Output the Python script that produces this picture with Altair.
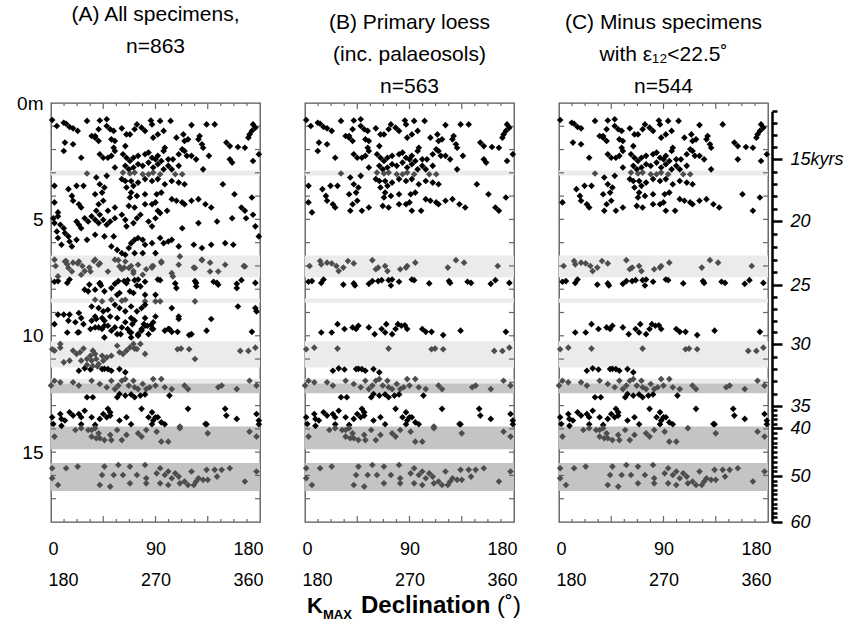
import altair as alt
import pandas as pd

W, H = 209, 419
REG = "Liberation Sans, Arial, Helvetica, sans-serif"

# ---------------- data (declination deg, depth m) ----------------
# specimens present in all three panels
common_top = [
    (1,0.73),(11,0.85),(13,0.89),(16,1.03),(19,1.09),(31,0.77),(41,1.13),(38,1.42),(42,0.75),
    (48,0.7),(48,0.99),(51,1.13),(54,1.2),(61,1.09),(65,1.35),(68,1.35),(74,0.92),(72,1.13),(78,1.06),
    (81,1.2),(86,0.75),(87,0.92),(94,0.77),(92,1.35),(88,1.49),(97,1.2),(103,0.77),(108,1.49),(114,1.35),
    (115,1.63),(118,1.56),(121,0.95),(127,1.56),(128,1.42),(130,1.77),(131,1.92),(141,0.92),(151,1.7),
    (154,1.85),(161,1.89),(167,1.92),(170,1.49),(173,1.2),(174,0.92),(176,1.06),(171,1.35),
    (12,1.7),(19,1.77),(26,2.35),(35,1.42),(38,1.49),(41,1.63),(42,2.2),(45,2.35),(49,2.35),(52,2.27),
    (54,1.92),(55,1.63),(52,1.56),(55,2.06),(64,1.85),(62,2.2),(65,2.35),(68,2.49),(71,2.35),(75,2.27),
    (81,2.2),(84,2.13),(87,2.35),(90,2.42),(92,2.27),(95,2.49),(97,2.06),(98,1.92),(101,2.42),(105,2.42),
    (110,2.2),(113,1.99),(115,2.06),(117,2.27),(121,2.27),(125,2.42),(154,2.42),(174,2.49),(179,2.2),
    (55,2.77),(64,2.7),(67,2.85),(71,2.77),(75,2.63),(79,2.7),(84,2.56),(88,2.77),(92,2.63),(97,2.85),
    (101,2.7),(104,2.85),(110,2.7),(131,2.85),(31,3.03),(48,3.13),(62,2.99),(68,3.03),(72,2.99),(79,3.06),
    (84,3.06),(88,2.99),(94,3.06),(107,3.06),(113,3.06),
    (15,3.7),(22,3.56),(28,3.56),(39,3.2),(42,3.49),(46,3.63),(38,3.92),(44,3.85),(45,4.2),(41,4.35),
    (39,4.63),(18,3.99),(19,4.2),(24,4.35),(26,4.49),(3,4.27),(49,4.63),(55,4.49),(61,3.27),(64,3.35),
    (69,3.35),(75,3.42),(81,3.27),(87,3.35),(92,3.27),(98,3.49),(104,3.35),(110,3.42),(115,3.49),(65,3.63),
    (71,3.56),(69,3.85),(68,4.06),(74,3.99),(81,3.92),(91,3.92),(95,3.85),(104,4.13),(115,4.35),(121,4.2),
    (127,4.13),(133,4.35),(138,4.49),(158,3.92),(173,4.06),(67,4.42),(72,4.49),(81,4.35),(87,4.35),
    (92,4.63),(100,4.63),(108,4.2),(113,4.27),(167,4.63),(90,4.27),
]
common_mid = [
    (4,7.0),(13,6.79),(14,6.93),(19,6.86),(23,6.89),(27,7.0),(29,7.22),(33,7.07),(37,6.79),(42,6.89),
    (58,6.75),(61,7.14),(63,7.07),(69,7.0),(71,7.22),(82,7.14),(87,7.07),(88,7.0),(95,6.86),(123,7.07),
    (130,6.75),(137,6.86),(166,7.0),
    (3,7.68),(6,7.65),(14,7.73),(16,7.58),(33,7.8),(42,7.75),(43,7.84),(55,7.77),(58,7.65),(63,7.65),
    (66,7.61),(72,7.61),(74,7.84),(75,7.58),(81,7.68),(92,7.58),(94,7.61),(107,7.75),(124,7.65),
    (125,7.73),(140,7.68),(143,7.73),(160,7.77),(164,7.61),(176,7.73),
    (14,9.86),(23,9.86),(28,9.5),(34,9.71),(41,9.64),(44,9.71),(46,9.57),(55,9.64),(60,9.93),(66,9.71),
    (69,9.86),(70,9.5),(75,9.93),(78,9.71),(80,9.5),(83,9.57),(86,9.55),(88,9.71),(101,9.71),(104,9.83),
    (109,9.83),(119,9.97),(134,9.78),(173,9.83),
    (1,10.58),(8,10.51),(28,10.55),(72,10.55),(109,10.58),(112,10.55),(119,10.58),(163,10.65),
    (170,10.65),(176,10.51),
    (24,11.5),(29,11.4),(34,11.45),(44,11.43),(46,11.42),(49,11.43),(52,11.5),(59,11.43),(64,11.57),
]
common_low = [
    (0,12.14),(3,11.93),(8,12.0),(19,12.0),(24,12.14),(35,11.93),(42,12.07),(48,12.21),(52,11.93),
    (55,12.29),(58,12.14),(61,11.93),(64,11.86),(67,12.14),(71,11.93),(72,12.21),(75,12.29),(79,12.07),
    (82,12.29),(85,12.21),(88,11.86),(90,12.14),(95,11.86),(98,12.21),(104,12.29),(115,12.14),
    (118,12.29),(144,12.21),(147,12.14),(160,12.29),(171,11.93),(177,12.14),
    (31,12.64),(36,12.64),(57,12.64),(59,12.5),(64,12.57),(69,12.52),(72,12.64),(77,12.57),(81,12.52),
    (102,12.57),
    (8,13.36),(9,13.57),(16,13.29),(19,13.43),(24,13.36),(26,13.5),(29,13.22),(35,13.5),(42,13.57),
    (45,13.36),(48,13.5),(49,13.14),(51,13.29),(51,13.43),(59,13.64),(65,13.5),(78,13.14),(84,13.5),
    (87,13.29),(88,13.64),(90,13.5),(92,13.5),(95,13.72),(118,13.14),(133,13.79),(150,13.14),
    (151,13.43),(160,13.57),(177,13.36),(179,13.64),(1,13.5),(2,13.79),(12,13.64),
    (9,13.87),(26,13.8),(38,13.83),(69,13.8),(87,13.8),(98,13.8),(134,13.8),(179,13.8),
    (3,14.33),(21,14.05),(26,13.97),(32,14.05),(35,14.33),(38,13.97),(41,14.19),(42,14.4),(46,14.48),
    (51,14.26),(52,14.48),(57,14.05),(61,14.48),(65,14.26),(75,14.19),(78,14.33),(82,14.05),(91,14.12),
    (95,14.55),(101,14.55),(111,13.97),(135,14.19),(171,14.12),(177,14.33),(35,14.05),(39,14.4),
    (1,15.69),(1,16.12),(6,16.41),(13,15.69),(23,15.62),(42,16.41),(44,15.98),(46,15.62),(51,16.48),
    (54,15.98),(58,15.55),(62,15.98),(68,16.34),(68,15.62),(74,15.98),(81,15.55),(82,16.12),(82,16.34),
    (91,15.91),(94,15.69),(94,16.34),(98,15.98),(101,16.41),(104,16.12),(107,15.91),(110,16.05),
    (111,16.34),(115,16.26),(118,16.41),(121,15.83),(123,16.41),(125,16.26),(127,16.12),(131,16.19),
    (134,15.76),(135,16.19),(141,15.76),(143,16.05),(147,15.76),(154,15.69),(167,16.26),(177,15.83),
    (101,15.83),
]
# in panels A and B only (removed in C: eps12 < 22.5)
b_only = [
    (5,0.99),(23,1.2),(134,0.92),(156,2.56),(136,2.27),(3,3.56),(148,3.49),(6,4.7),(164,4.49),
    (11,2.06),(111,13.9),
]
# in panel A only (non-primary loess)
a_only = [
    (2,4.95),(6,4.87),(3,5.16),(8,5.23),(11,5.38),(12,5.59),(15,5.73),(16,5.95),(18,6.16),(9,6.09),
    (6,5.8),(5,5.52),(22,5.09),(24,5.23),(26,5.38),(29,4.95),(32,5.09),(35,4.87),(38,5.02),(41,5.16),
    (42,4.8),(45,5.02),(48,5.23),(51,5.09),(55,4.95),(61,4.8),(64,5.02),(65,5.3),(71,5.16),(74,4.95),
    (77,4.8),(84,5.09),(87,5.3),(90,4.95),(94,4.73),(38,5.66),(46,5.73),(54,5.73),(31,5.88),(22,5.88),
    (113,5.38),(127,5.16),(143,5.09),(156,4.95),(168,4.95),(174,4.8),(176,5.3),(179,5.73),
    (52,6.16),(57,6.31),(61,6.45),(67,6.23),(69,6.02),(72,5.88),(75,5.8),(79,5.88),(81,6.09),(87,6.02),
    (94,5.8),(97,6.02),(101,5.95),(104,5.88),(110,6.16),(123,6.09),(130,6.23),(138,6.09),(150,6.02),
    (157,6.09),(64,6.52),(72,6.45),(79,6.45),(90,6.45),(111,6.59),
    (3,6.73),(12,6.81),(15,7.09),(18,7.24),(24,6.81),(34,7.24),(38,6.73),(41,6.95),(49,7.24),(55,6.73),
    (59,7.02),(64,6.81),(67,7.09),(71,7.31),(75,6.95),(79,7.38),(87,7.02),(95,6.81),(104,7.31),
    (105,7.45),(110,6.95),(124,7.09),(130,6.73),(137,7.24),(144,7.24),(150,6.95),(167,7.02),(6,7.45),
    (26,7.38),
    (29,8.02),(32,8.09),(38,8.02),(46,8.09),(52,7.95),(57,8.24),(59,8.16),(68,8.09),(71,8.16),(81,8.24),
    (90,8.24),(108,7.95),(160,7.95),(77,7.88),(42,7.74),(65,7.74),(125,7.88),(144,7.81),
    (38,8.45),(44,8.52),(52,8.45),(61,8.49),(64,8.45),(81,8.52),(90,8.52),(94,8.52),(124,8.52),
    (35,8.74),(41,8.81),(45,8.95),(49,8.88),(55,8.67),(59,8.81),(64,8.95),(69,8.74),(74,8.95),(78,8.81),
    (81,8.67),(104,8.81),(110,9.17),(6,9.09),(11,9.09),(16,9.09),(24,9.02),(26,9.24),(38,9.17),(44,9.24),
    (51,9.17),(57,9.24),(69,9.24),(81,9.24),(90,9.17),(161,8.74),(176,8.81),(177,8.95),
    (3,9.5),(15,9.35),(21,9.42),(35,9.35),(39,9.28),(46,9.35),(64,9.42),(72,9.35),(88,9.42),(110,9.28),
    (138,9.28),
    (24,9.85),(38,9.64),(49,9.57),(52,9.78),(57,9.93),(61,9.64),(68,9.85),(75,10.0),(78,9.78),(81,9.57),
    (84,9.93),(87,9.71),(98,9.78),(102,9.71),(121,9.93),(46,10.07),(69,10.07),
    (3,10.64),(8,10.35),(11,11.14),(16,11.07),(19,10.64),(22,10.78),(25,10.71),(26,11.07),(31,11.0),
    (34,10.86),(35,11.07),(36,10.64),(38,10.78),(39,11.0),(41,11.21),(44,10.86),(45,11.07),(48,10.93),
    (52,10.86),(57,10.43),(59,10.71),(62,10.78),(65,10.64),(68,10.5),(71,10.35),(74,10.57),(77,10.35),
    (81,10.78),(124,11.0),(31,11.25),(36,11.3),(40,11.32),
]

# shaded horizons (depth m)
band_lo = [2.90, 6.55, 8.40, 10.24, 11.85, 12.05, 13.90, 15.47]
band_hi = [3.11, 7.49, 8.58, 11.36, 12.05, 12.47, 14.87, 16.67]
band_shade = ["light", "light", "light", "light", "light", "dark", "dark", "dark"]

depth_ticks = list(range(1, 18))
x_minor_ticks = [11.25, 22.5, 33.75, 56.25, 67.5, 78.75, 101.25, 112.5, 123.75, 146.25, 157.5, 168.75]
x_major_ticks = [45, 90, 135]

# age model (kyr) for the right-hand scale
age_ticks = list(range(11, 61))
age_major = [15, 20, 25, 30, 35, 40, 50, 60]
age_anchor_age = [11, 15, 20, 25, 30, 35, 40, 50, 60]
age_anchor_depth = [0.35, 2.42, 5.07, 7.83, 10.36, 13.02, 13.97, 16.03, 18.0]

titles = [
    ["(A) All specimens,", "n=863", " "],
    ["(B) Primary loess", "(inc. palaeosols)", "n=563"],
    ["(C) Minus specimens", "with \u03b5\u2081\u2082<22.5\u02da", "n=544"],
]

# ---------------- helpers ----------------
def points_df(pts):
    df = pd.DataFrame(pts, columns=["decl", "depth"])
    df["grp"] = [
        "band" if any(lo <= d <= hi for lo, hi in zip(band_lo, band_hi)) else "out"
        for d in df["depth"]
    ]
    return df

bands_df = pd.DataFrame({"lo": band_lo, "hi": band_hi, "shade": band_shade})
dticks_df = pd.DataFrame({"d": depth_ticks})
xminor_df = pd.DataFrame({"v": x_minor_ticks})
xmajor_df = pd.DataFrame({"v": x_major_ticks})

yscale = alt.Scale(domain=[0, 18], reverse=True, nice=False, zero=False)
xscale = alt.Scale(domain=[0, 180], nice=False, zero=False)

def y_axis(show):
    if not show:
        return None
    return alt.Axis(values=[0, 5, 10, 15], labelExpr="datum.value == 0 ? '0m' : datum.label",
                    ticks=False, domain=False, grid=False, labelFont=REG, labelFontSize=19,
                    labelPadding=8, labelColor="black", title=None)

x_axis = alt.Axis(values=[0, 90, 180], labelExpr="[datum.label, '' + (datum.value + 180)]",
                  ticks=False, domain=False, grid=False, labelFlush=True, labelFlushOffset=3,
                  labelFont=REG, labelFontSize=18, labelLineHeight=31, labelPadding=18,
                  labelColor="black", title=None)

TICK = "#666666"

def panel(pts, idx, show_y, extra=None):
    ax = y_axis(show_y)
    bands = alt.Chart(bands_df).mark_rect().encode(
        y=alt.Y("lo:Q", scale=yscale, axis=ax), y2="hi:Q",
        color=alt.condition("datum.shade == 'dark'", alt.value("#c4c4c4"), alt.value("#ebebeb")),
    )
    yl = alt.Chart(dticks_df).mark_rule(color=TICK, strokeWidth=1.2).encode(
        y=alt.Y("d:Q", scale=yscale, axis=ax), x=alt.value(0), x2=alt.value(5))
    yr = alt.Chart(dticks_df).mark_rule(color=TICK, strokeWidth=1.2).encode(
        y=alt.Y("d:Q", scale=yscale, axis=ax), x=alt.value(W - 5), x2=alt.value(W))
    layers = [bands, yl, yr]
    for df, ln in ((xminor_df, 3), (xmajor_df, 6)):
        layers.append(alt.Chart(df).mark_rule(color=TICK, strokeWidth=1.2).encode(
            x=alt.X("v:Q", scale=xscale, axis=x_axis), y=alt.value(0), y2=alt.value(ln)))
        layers.append(alt.Chart(df).mark_rule(color=TICK, strokeWidth=1.2).encode(
            x=alt.X("v:Q", scale=xscale, axis=x_axis), y=alt.value(H - ln), y2=alt.value(H)))
    pts_layer = alt.Chart(points_df(pts)).mark_point(shape="diamond", filled=True, size=44, opacity=1).encode(
        x=alt.X("decl:Q", scale=xscale, axis=x_axis),
        y=alt.Y("depth:Q", scale=yscale, axis=ax),
        color=alt.condition("datum.grp == 'band'", alt.value("#4d4d4d"), alt.value("#000000")),
    )
    layers.append(pts_layer)
    if extra:
        layers += extra
    ch = alt.layer(*layers).properties(
        width=W, height=H,
        title=alt.TitleParams(text=titles[idx], font=REG, fontSize=21, fontWeight="normal",
                              lineHeight=32, color="black", anchor="middle", frame="group", offset=5),
    )
    return ch

def piece(txt, x, y, size, weight):
    return alt.Chart(pd.DataFrame({"t": [txt]})).mark_text(
        align="left", baseline="alphabetic", fontSize=size, fontWeight=weight, font=REG, color="black"
    ).encode(text="t:N", x=alt.value(x), y=alt.value(y))

xtitle = [
    piece("K", 2, H + 91, 22, "bold"),
    piece("MAX", 18, H + 97, 13, "bold"),
    piece("Declination", 56, H + 91, 24, "bold"),
    piece("(\u02da)", 192, H + 91, 24, "normal"),
]

major_test = "indexof(" + str(age_major) + ", datum.value) >= 0"
age_axis = alt.Axis(
    orient="right", offset=4, values=age_ticks,
    labelExpr="datum.value == 15 ? '15kyrs' : (" + major_test + " ? datum.label : '')",
    tickSize={"condition": {"test": major_test, "value": 10}, "value": 5},
    tickWidth=2.5, tickColor="black", domainWidth=2.5, domainColor="black",
    labelFont=REG, labelFontStyle="italic", labelFontSize=18, labelPadding=8, labelColor="black",
    labelOverlap=False, labelBound=False, grid=False, title=None,
)
age_layer = alt.Chart(pd.DataFrame({"age": age_ticks})).mark_point(opacity=0).encode(
    y=alt.Y("age:Q", scale=alt.Scale(domain=age_anchor_age,
                                     range=[H * d / 18.0 for d in age_anchor_depth],
                                     nice=False, zero=False), axis=age_axis)
)

pA = panel(common_top + common_mid + common_low + b_only + a_only, 0, True)
pB = panel(common_top + common_mid + common_low + b_only, 1, False, xtitle)
pC = panel(common_top + common_mid + common_low, 2, False, [age_layer]).resolve_scale(y="independent")

chart = alt.hconcat(pA, pB, pC, spacing=45, bounds="flush").properties(
    padding={"left": 15, "top": 3, "right": 2, "bottom": 0}
).configure_view(stroke="#555555", strokeWidth=1.3)

chart.save("out.html", embed_options={"renderer": "svg", "actions": False})
